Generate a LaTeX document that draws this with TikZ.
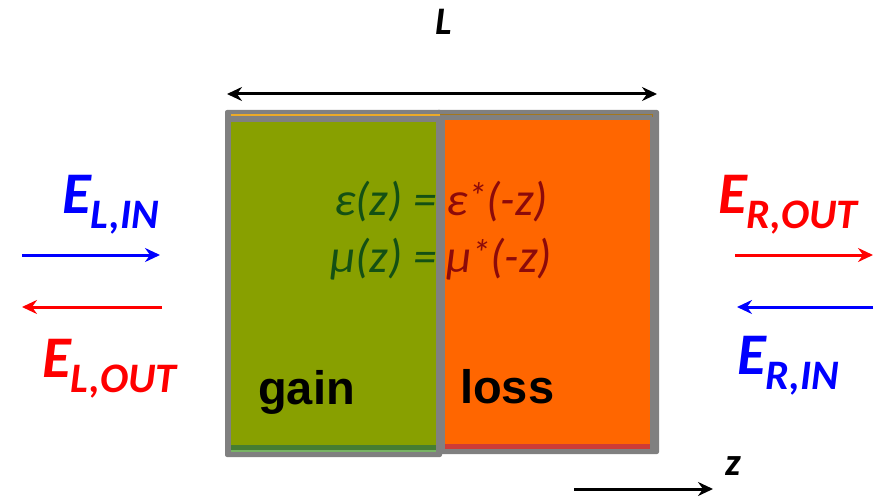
\documentclass[tikz,border=0pt]{standalone}
\usepackage{fontspec}
\setmainfont{Carlito}
\newfontfamily\arialfont{Liberation Sans}
\usepackage{tikz}
\usetikzlibrary{arrows.meta}

\definecolor{gaingreen}{RGB}{136,160,0}
\definecolor{gainedge}{RGB}{70,125,50}
\definecolor{gainlight}{RGB}{120,180,100}
\definecolor{lossorange}{RGB}{255,102,0}
\definecolor{lossedge}{RGB}{205,60,55}
\definecolor{framegray}{RGB}{128,128,128}
\definecolor{toporange}{RGB}{235,170,40}
\definecolor{eqgreen}{RGB}{20,80,20}
\definecolor{eqred}{RGB}{140,10,10}

\newcommand{\fieldlabel}[2]{#1\raisebox{-15pt}{\fontsize{42}{42}\selectfont #2}}
\newcommand{\conj}{\raisebox{6pt}{\fontsize{38}{38}\selectfont *}}

\begin{document}
\begin{tikzpicture}[
    x=1pt,y=-1pt,
    wave/.style={-{Stealth[length=15pt,width=14pt,inset=5pt]},line width=3pt},
    flabel/.style={anchor=base west,inner sep=0pt,font=\fontsize{59}{59}\selectfont\bfseries\itshape},
    axlabel/.style={anchor=base west,inner sep=0pt,font=\fontsize{39}{39}\selectfont\bfseries\itshape},
    region/.style={anchor=base west,inner sep=0pt,font=\arialfont\fontsize{47}{47}\selectfont\bfseries},
    eq/.style={inner sep=0pt,font=\fontsize{47}{47}\selectfont\itshape}
  ]
    \useasboundingbox (0,0) rectangle (874,497);

    % slab
    \fill[framegray,rounded corners=2pt] (225,110) rectangle (442,457);
    \fill[framegray,rounded corners=2pt] (436,110) rectangle (659,454);
    \fill[gaingreen] (231,122) rectangle (436,445);
    \fill[gainedge] (231,445) rectangle (436,450);
    \fill[gainlight] (231,450) rectangle (436,452);
    \fill[lossorange] (445,120) rectangle (650,444);
    \fill[lossedge] (445,444) rectangle (650,449);
    \draw[toporange,line width=1.5pt] (231,115) -- (440,115);
    \draw[toporange!70!black,line width=0.7pt] (440,114) -- (652,114) -- (652,117);

    \node[region] (gain) at (258,404) {gain};
    \node[region] (loss) at (460,403) {loss};

    \node[eq,anchor=base east,text=eqgreen] (epsl) at (437,215) {ε(z) =};
    \node[eq,anchor=base west,text=eqred] (epsr) at (446,215) {ε\conj(-z)};
    \node[eq,anchor=base east,text=eqgreen] (mul) at (437,272) {μ(z) =};
    \node[eq,anchor=base west,text=eqred] (mur) at (446,272) {μ\conj(-z)};

    % length
    \coordinate (len-a) at (227,94);
    \coordinate (len-b) at (657,94);
    \draw[{Stealth[length=15pt,width=14pt,inset=5pt]}-{Stealth[length=15pt,width=14pt,inset=5pt]},line width=3pt] (len-a) -- (len-b);
    \node[axlabel] (len) at (435,35) {L};

    % fields
    \node[flabel,text=blue] (elin) at (62,213) {\fieldlabel{E}{L,IN}};
    \node[flabel,text=red] (elout) at (42,377) {\fieldlabel{E}{L,OUT}};
    \node[flabel,text=red] (erout) at (718,213) {\fieldlabel{E}{R,OUT}};
    \node[flabel,text=blue] (erin) at (737,374) {\fieldlabel{E}{R,IN}};

    \coordinate (lin-a) at (22,255);
    \coordinate (lin-b) at (160,255);
    \coordinate (lout-a) at (162,307);
    \coordinate (lout-b) at (22,307);
    \coordinate (rout-a) at (735,255);
    \coordinate (rout-b) at (873,255);
    \coordinate (rin-a) at (873,307);
    \coordinate (rin-b) at (737,307);
    \draw[wave,blue] (lin-a) -- (lin-b);
    \draw[wave,red] (lout-a) -- (lout-b);
    \draw[wave,red] (rout-a) -- (rout-b);
    \draw[wave,blue] (rin-a) -- (rin-b);

    % axis
    \coordinate (ax-a) at (574,489);
    \coordinate (ax-b) at (713,489);
    \draw[wave] (ax-a) -- (ax-b);
    \node[axlabel] (zax) at (725,475) {z};
\end{tikzpicture}
\end{document}
